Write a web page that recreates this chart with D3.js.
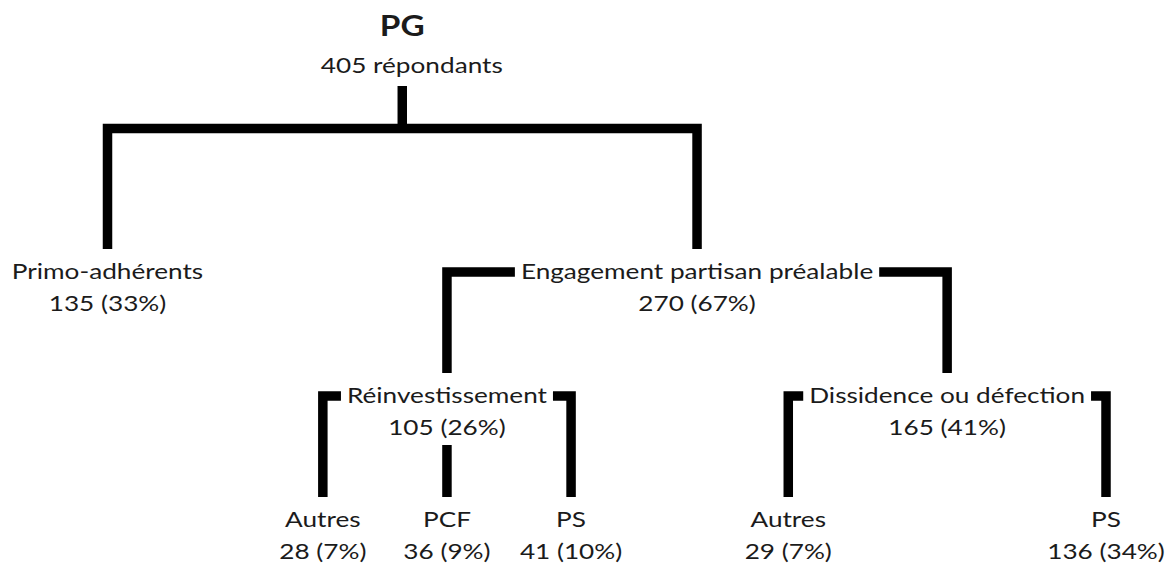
<!DOCTYPE html>
<html>
<head>
<meta charset="utf-8">
<script src="https://cdn.jsdelivr.net/npm/d3@7"></script>
<style>
  html, body { margin: 0; padding: 0; background: #fff; }
  svg { display: block; }
  text { font-family: Lato, "Noto Sans", sans-serif; fill: #1b1b1b; }
</style>
</head>
<body>
<script>
const width = 1165,
  height = 567;

// one entry per box of the tree
const nodeIds = ["pg", "primo", "engagement", "reinv", "dissid",
  "reinvAutres", "reinvPCF", "reinvPS", "dissidAutres", "dissidPS"];
const parentIds = [null, "pg", "pg", "engagement", "engagement",
  "reinv", "reinv", "reinv", "dissid", "dissid"];
const nodeLabels = ["PG", "Primo-adhérents", "Engagement partisan préalable",
  "Réinvestissement", "Dissidence ou défection",
  "Autres", "PCF", "PS", "Autres", "PS"];
const counts = [405, 135, 270, 105, 165, 28, 36, 41, 29, 136];
const percents = [null, 33, 67, 26, 41, 7, 9, 10, 7, 34];

const rows = nodeIds.map((id, i) => ({
  id: id,
  parent: parentIds[i],
  label: nodeLabels[i],
  count: counts[i],
  pct: percents[i]
}));

const root = d3
  .stratify()
  .id(d => d.id)
  .parentId(d => d.parent)(rows);

// spacing between siblings, per parent, in tree units
const childGap = { pg: 4.75, engagement: 1, reinv: 1, dissid: 2.56 };
const cousinGap = 1.75;

d3
  .tree()
  .nodeSize([1, 1])
  .separation((a, b) =>
    a.parent === b.parent ? childGap[a.parent.id] : cousinGap
  )(root);

const nodes = root.descendants();

const x = d3
  .scaleLinear()
  .domain(d3.extent(nodes, d => d.x))
  .range([107.5, 1106]);

const y = d3
  .scaleLinear()
  .domain([1, 3])
  .range([279, 527]);

const titleY = 36,
  subtitleY = 73,
  stemTop = 86,
  rootBarY = 128.5;

const sx = 1.19, // the picture is a bit wider than the type
  fontSize = 22,
  valueGap = 32,
  dropGap = 30,
  labelPad = 6;

nodes.forEach(d => {
  d.px = x(d.x);
  d.py = d.depth ? y(d.depth) : titleY;
});

const svg = d3
  .select("body")
  .append("svg")
  .attr("width", width)
  .attr("height", height);

svg
  .append("rect")
  .attr("width", width)
  .attr("height", height)
  .attr("fill", "#fff");

const lines = svg
  .append("g")
  .attr("fill", "none")
  .attr("stroke", "#000")
  .attr("stroke-width", 9.5)
  .attr("stroke-linejoin", "miter")
  .attr("stroke-linecap", "butt");

const label = svg
  .append("g")
  .selectAll("g")
  .data(nodes)
  .join("g")
  .attr("transform", d => `translate(${d.px},${d.py}) scale(${sx},1)`);

label
  .append("text")
  .attr("text-anchor", "middle")
  .attr("font-size", d => (d.depth ? fontSize : 28))
  .attr("font-weight", d => (d.depth ? null : "bold"))
  .text(d => d.data.label)
  .each(function(d) {
    d.halfWidth = (this.getComputedTextLength() * sx) / 2;
  });

label
  .append("text")
  .attr("text-anchor", "middle")
  .attr("x", d => (d.depth ? 0 : 8))
  .attr("y", d => (d.depth ? valueGap : subtitleY - titleY))
  .attr("font-size", fontSize)
  .text(d =>
    d.depth
      ? `${d.data.count} (${d.data.pct}%)`
      : `${d.data.count} répondants`
  );

function dropEnd(c) {
  return c.py - dropGap;
}

nodes
  .filter(d => d.children)
  .forEach(d => {
    const kids = d.children;
    const first = kids[0],
      last = kids[kids.length - 1];

    if (!d.depth) {
      lines.append("path").attr("d", `M${d.px},${stemTop}V${rootBarY}`);
      lines
        .append("path")
        .attr(
          "d",
          `M${first.px},${dropEnd(first)}V${rootBarY}H${last.px}V${dropEnd(last)}`
        );
      return;
    }

    // bracket broken around the parent's label
    const barY = d.py - 7;
    lines
      .append("path")
      .attr(
        "d",
        `M${first.px},${dropEnd(first)}V${barY}H${d.px - d.halfWidth - labelPad}`
      );
    lines
      .append("path")
      .attr(
        "d",
        `M${d.px + d.halfWidth + labelPad},${barY}H${last.px}V${dropEnd(last)}`
      );
    kids.slice(1, -1).forEach(c => {
      lines
        .append("path")
        .attr("d", `M${c.px},${d.py + valueGap + 10}V${dropEnd(c)}`);
    });
  });
</script>
</body>
</html>
